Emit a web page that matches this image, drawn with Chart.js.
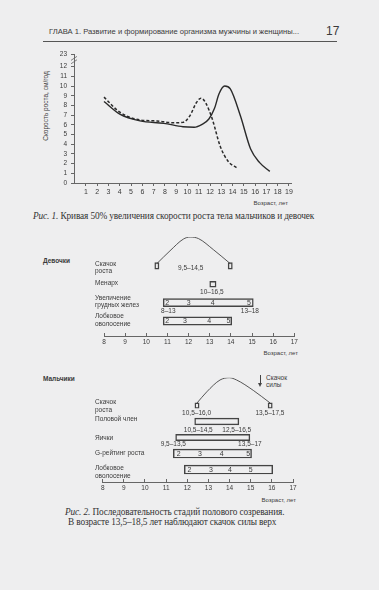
<!DOCTYPE html>
<html lang="ru">
<head>
<meta charset="UTF-8">
<meta name="viewport" content="width=device-width, initial-scale=1.0">
<title>Скорость роста и стадии полового созревания</title>
<script src="https://cdn.jsdelivr.net/npm/chart.js"></script>
<style>
  body { margin: 0; background: #eeeeef; }
  .page { position: relative; width: 379px; height: 590px; overflow: hidden;
          font-family: "Liberation Sans", Arial, sans-serif; color: #3a3a3a; }
  .page canvas { position: absolute; left: 0; }
  .t { position: absolute; white-space: nowrap; line-height: 1; }
  .cap { font-family: "Liberation Serif", "Times New Roman", serif; font-size: 9.3px; letter-spacing: -0.12px; color: #333; }
  .rule { position: absolute; left: 43px; top: 40.5px; width: 294px; height: 1.3px; background: #555; }
  .arrow { position: absolute; left: 260px; top: 375px; height: 9px; border-left: 1px solid #444; }
  .arrow-head { position: absolute; left: 258.3px; top: 383px; width: 0; height: 0;
                border-left: 2.4px solid transparent; border-right: 2.4px solid transparent; border-top: 4px solid #444; }
</style>
</head>
<body>
<div class="page">
  <div class="t" style="left:49px;top:28px;font-size:7.6px">ГЛАВА 1. Развитие и формирование организма мужчины и женщины...</div>
  <div class="t" style="left:326px;top:25px;font-size:12px">17</div>
  <div class="rule"></div>

  <div class="t" style="left:46px;top:106px;font-size:6.5px;transform:translate(-50%,-50%) rotate(-90deg)">Скорость роста, см/год</div>
  <div class="t" style="right:91px;top:200px;font-size:6px">Возраст, лет</div>
  <div class="t cap" style="left:33px;top:211.5px"><i>Рис. 1.</i> Кривая 50% увеличения скорости роста тела мальчиков и девочек</div>

  <div class="t" style="left:43px;top:257.5px;font-size:6.5px;font-weight:bold">Девочки</div>
  <div class="t" style="right:81px;top:350px;font-size:6px">Возраст, лет</div>

  <div class="t" style="left:43px;top:375.5px;font-size:6.5px;font-weight:bold">Мальчики</div>
  <div class="t" style="left:266px;top:374px;font-size:6.5px;line-height:7px">Скачок<br>силы</div>
  <div class="arrow"></div><div class="arrow-head"></div>
  <div class="t" style="right:83px;top:496.5px;font-size:6px">Возраст, лет</div>

  <div class="t cap" style="left:65px;top:507.5px"><i>Рис. 2.</i> Последовательность стадий полового созревания.</div>
  <div class="t cap" style="left:68px;top:518px">В возрасте 13,5–18,5 лет наблюдают скачок силы верх</div>

  <canvas id="rate" width="379" height="230" style="top:0"></canvas>
  <canvas id="girls" width="379" height="140" style="top:225px"></canvas>
  <canvas id="boys" width="379" height="145" style="top:365px"></canvas>
</div>

<script>
// ---- Рис. 1: скорость роста, см/год
const rateAgeTicks = [1, 2, 3, 4, 5, 6, 7, 8, 9, 10, 11, 12, 13, 14, 15, 16, 17, 18, 19];
const rateTickValues = [0, 1, 2, 3, 4, 5, 6, 7, 8, 9, 10, 11, 12, 13.3];
const rateTickLabels = ['0', '1', '2', '3', '4', '5', '6', '7', '8', '9', '10', '11', '12', '23'];
const boysRateAge = [2.6, 4.0, 5.8, 7.9, 9.6, 10.6, 11.3, 11.9, 12.4, 12.8, 13.3, 13.8, 14.7, 15.6, 16.4, 17.3];
const boysRate = [8.4, 7.1, 6.4, 6.15, 5.8, 5.75, 6.05, 6.6, 7.7, 9.2, 10.0, 9.7, 6.9, 3.5, 2.1, 1.2];
const girlsRateAge = [2.6, 4.0, 5.8, 7.3, 8.75, 9.6, 10.2, 10.8, 11.2, 11.6, 12.2, 12.9, 13.6, 14.4];
const girlsRate = [8.85, 7.3, 6.5, 6.4, 6.2, 6.25, 6.9, 8.3, 8.75, 8.3, 6.6, 3.8, 2.25, 1.55];

// ---- Рис. 2: стадии полового созревания
const ageTicks = [8, 9, 10, 11, 12, 13, 14, 15, 16, 17];
const stageNames = ['2', '3', '4', '5'];

const girlsRows = [['Скачок', 'роста'], ['Менарх'], ['Увеличение', 'грудных желез'], ['Лобковое', 'оволосение']];
const girlsSpurtEnds = [10.5, 13.97];
const girlsArcAge = [10.5, 11.12, 11.75, 12.07, 12.47, 13.18, 13.97];
const girlsArcRise = [0, 0.48, 0.92, 1, 0.94, 0.52, 0];
const girlsMenarche = [13.15];
const girlsBoxRows = [2, 3];
const girlsBoxStart = [10.8, 10.8];
const girlsBoxEnd = [15.06, 14.04];
const girlsStageRows = [2, 3];
const girlsStageAge = [[10.99, 12.0, 13.14, 14.86], [10.99, 11.83, 12.97, 13.88]];
const girlsRangeText = ['9,5–14,5', '10–16,5', '8–13', '13–18'];
const girlsRangeAge = [12.1, 13.1, 11.04, 14.9];
const girlsRangeRow = [0, 1, 2, 2];

const boysRows = [['Скачок', 'роста'], ['Половой член'], ['Яички'], ['G-рейтинг роста'], ['Лобковое', 'оволосение']];
const boysSpurtEnds = [12.46, 15.92];
const boysArcAge = [12.46, 12.92, 13.55, 13.99, 14.33, 15.12, 15.92];
const boysArcRise = [0, 0.44, 0.91, 1, 0.91, 0.5, 0];
const boysBoxRows = [1, 2, 3, 4];
const boysBoxStart = [12.35, 11.45, 11.34, 11.86];
const boysBoxEnd = [14.44, 14.96, 15.04, 16.04];
const boysStageRows = [3, 4];
const boysStageAge = [[11.6, 12.6, 13.63, 14.88], [12.1, 13.12, 14.02, 15.0]];
const boysRangeText = ['10,5–16,0', '13,5–17,5', '10,5–14,5', '12,5–16,5', '9,5–13,5', '13,5–17'];
const boysRangeAge = [12.44, 15.91, 12.52, 14.34, 11.34, 14.96];
const boysRangeRow = [0, 0, 1, 1, 2, 2];

Chart.defaults.font.family = '"Liberation Sans", Arial, sans-serif';
Chart.defaults.color = '#3a3a3a';
Chart.defaults.animation = false;
Chart.defaults.plugins.legend.display = false;
Chart.defaults.plugins.tooltip.enabled = false;

const INK = '#2a2a2a';
const AXIS = '#666';

// разрыв оси Y между 12 и 23
const axisBreak = {
  id: 'axisBreak',
  afterDraw(chart) {
    const {ctx, scales: {x, y}} = chart;
    const ax = x.left;
    ctx.save();
    ctx.strokeStyle = AXIS;
    ctx.lineWidth = 0.8;
    [12.85, 12.5].forEach(v => {
      const py = y.getPixelForValue(v);
      ctx.beginPath();
      ctx.moveTo(ax - 3, py + 2);
      ctx.lineTo(ax + 3, py - 2);
      ctx.stroke();
    });
    ctx.restore();
  }
};

new Chart(document.getElementById('rate'), {
  type: 'line',
  data: {
    datasets: [
      {
        label: 'Мальчики',
        data: boysRateAge.map((x, i) => ({x, y: boysRate[i]})),
        borderColor: INK, borderWidth: 1.4, pointRadius: 0,
        cubicInterpolationMode: 'monotone'
      },
      {
        label: 'Девочки',
        data: girlsRateAge.map((x, i) => ({x, y: girlsRate[i]})),
        borderColor: INK, borderWidth: 1.5, borderDash: [3, 2], pointRadius: 0,
        cubicInterpolationMode: 'monotone'
      }
    ]
  },
  options: {
    responsive: false,
    layout: {padding: {left: 44, top: 54, right: 88, bottom: 27}},
    scales: {
      x: {
        type: 'linear', min: -0.06, max: 19.18,
        afterBuildTicks: s => { s.ticks = rateAgeTicks.map(v => ({value: v})); },
        afterFit: s => { s.height = 20; },
        grid: {drawOnChartArea: false, tickLength: 3, color: AXIS},
        border: {color: AXIS, width: 1},
        ticks: {font: {size: 7}, padding: 2, maxRotation: 0, autoSkip: false}
      },
      y: {
        type: 'linear', min: 0, max: 13.3,
        afterBuildTicks: s => { s.ticks = rateTickValues.map(v => ({value: v})); },
        afterFit: s => { s.width = 30; },
        grid: {drawOnChartArea: false, tickLength: 3, color: AXIS},
        border: {color: AXIS, width: 1},
        ticks: {font: {size: 6.5}, padding: 4, autoSkip: false, callback: (v, i) => rateTickLabels[i]}
      }
    }
  },
  plugins: [axisBreak]
});

// подписи строк, номера стадий и возрастные интервалы
function rowMarks(d, look) {
  return {
    id: 'rowMarks',
    afterDatasetsDraw(chart) {
      const {ctx, scales} = chart;
      const x = scales.x, r = scales.rows;
      ctx.save();
      ctx.fillStyle = '#3a3a3a';
      ctx.textBaseline = 'middle';
      ctx.font = '6.5px "Liberation Sans", Arial, sans-serif';
      ctx.textAlign = 'left';
      d.rows.forEach((lines, i) => {
        const yc = r.getPixelForValue(i) + look.rowLabelDy[i];
        lines.forEach((s, k) => ctx.fillText(s, look.labelX, yc + (k - (lines.length - 1) / 2) * 7.5));
      });
      ctx.textAlign = 'center';
      ctx.font = '7px "Liberation Sans", Arial, sans-serif';
      d.stageRows.forEach((row, j) => {
        d.stageAge[j].forEach((v, k) => ctx.fillText(stageNames[k], x.getPixelForValue(v), r.getPixelForValue(row) + 0.5));
      });
      ctx.font = '6.5px "Liberation Sans", Arial, sans-serif';
      d.rangeText.forEach((s, k) => {
        ctx.fillText(s, x.getPixelForValue(d.rangeAge[k]), r.getPixelForValue(d.rangeRow[k]) + look.rangeDrop[k]);
      });
      ctx.restore();
    }
  };
}

function pubertyChart(id, d, look) {
  const box = {
    type: 'bar', indexAxis: 'y', xAxisID: 'x', yAxisID: 'rows', grouped: false,
    backgroundColor: 'rgba(0,0,0,0)', borderColor: '#444', borderWidth: 0.8, borderSkipped: false
  };
  const datasets = [
    {
      type: 'line', indexAxis: 'x', xAxisID: 'x', yAxisID: 'arc',
      data: d.arcAge.map((x, i) => ({x, y: d.arcRise[i]})),
      borderColor: '#444', borderWidth: 0.9, pointRadius: 0, fill: false,
      cubicInterpolationMode: 'monotone'
    },
    Object.assign({}, box, {
      barThickness: look.markH,
      data: d.spurtEnds.map(a => ({x: [a - look.markW / 2, a + look.markW / 2], y: 0}))
    })
  ];
  if (d.menarche) {
    datasets.push(Object.assign({}, box, {
      barThickness: look.squareH,
      data: d.menarche.map(a => ({x: [a - look.squareW / 2, a + look.squareW / 2], y: 1}))
    }));
  }
  d.boxRows.forEach((row, i) => {
    datasets.push(Object.assign({}, box, {
      barThickness: look.boxH[i],
      data: [{x: [d.boxStart[i], d.boxEnd[i]], y: row}]
    }));
  });

  return new Chart(document.getElementById(id), {
    type: 'bar',
    data: {datasets},
    options: {
      responsive: false,
      layout: {padding: look.padding},
      scales: {
        x: {
          type: 'linear', position: 'bottom', min: 8, max: 17, offset: false,
          afterBuildTicks: s => { s.ticks = ageTicks.map(v => ({value: v})); },
          afterFit: s => { s.height = 20; },
          grid: {offset: false, drawOnChartArea: false, tickLength: -3, color: AXIS},
          border: {color: AXIS, width: 1},
          ticks: {font: {size: 6.5}, padding: 5.5, maxRotation: 0, autoSkip: false}
        },
        rows: {type: 'linear', axis: 'y', display: false, reverse: true, offset: false, min: look.rowMin, max: look.rowMax},
        arc: {type: 'linear', axis: 'y', display: false, offset: false, min: look.arcMin, max: 1}
      }
    },
    plugins: [rowMarks(d, look)]
  });
}

pubertyChart('girls', {
  rows: girlsRows, spurtEnds: girlsSpurtEnds, arcAge: girlsArcAge, arcRise: girlsArcRise,
  menarche: girlsMenarche, boxRows: girlsBoxRows, boxStart: girlsBoxStart, boxEnd: girlsBoxEnd,
  stageRows: girlsStageRows, stageAge: girlsStageAge,
  rangeText: girlsRangeText, rangeAge: girlsRangeAge, rangeRow: girlsRangeRow
}, {
  padding: {left: 104, top: 12, right: 84.7, bottom: 9},
  rowMin: -1.575, rowMax: 3.82, arcMin: -2.72,
  markW: 0.2, markH: 6.5, squareW: 0.3, squareH: 6, boxH: [8.2, 8.2],
  labelX: 95, rowLabelDy: [2, -1, -1, -0.5],
  rangeDrop: [2.5, 8.2, 8.6, 8.6]
});

pubertyChart('boys', {
  rows: boysRows, spurtEnds: boysSpurtEnds, arcAge: boysArcAge, arcRise: boysArcRise,
  menarche: null, boxRows: boysBoxRows, boxStart: boysBoxStart, boxEnd: boysBoxEnd,
  stageRows: boysStageRows, stageAge: boysStageAge,
  rangeText: boysRangeText, rangeAge: boysRangeAge, rangeRow: boysRangeRow
}, {
  padding: {left: 102.7, top: 12.7, right: 86, bottom: 8},
  rowMin: -1.74, rowMax: 4.78, arcMin: -3.12,
  markW: 0.2, markH: 5.5, squareW: 0, squareH: 0, boxH: [6.7, 6.3, 9, 9],
  labelX: 95, rowLabelDy: [0.5, -2, 0.8, -0.2, 2.5],
  rangeDrop: [7.2, 7.2, 8.5, 8.5, 6.5, 6.5]
});
</script>
</body>
</html>
